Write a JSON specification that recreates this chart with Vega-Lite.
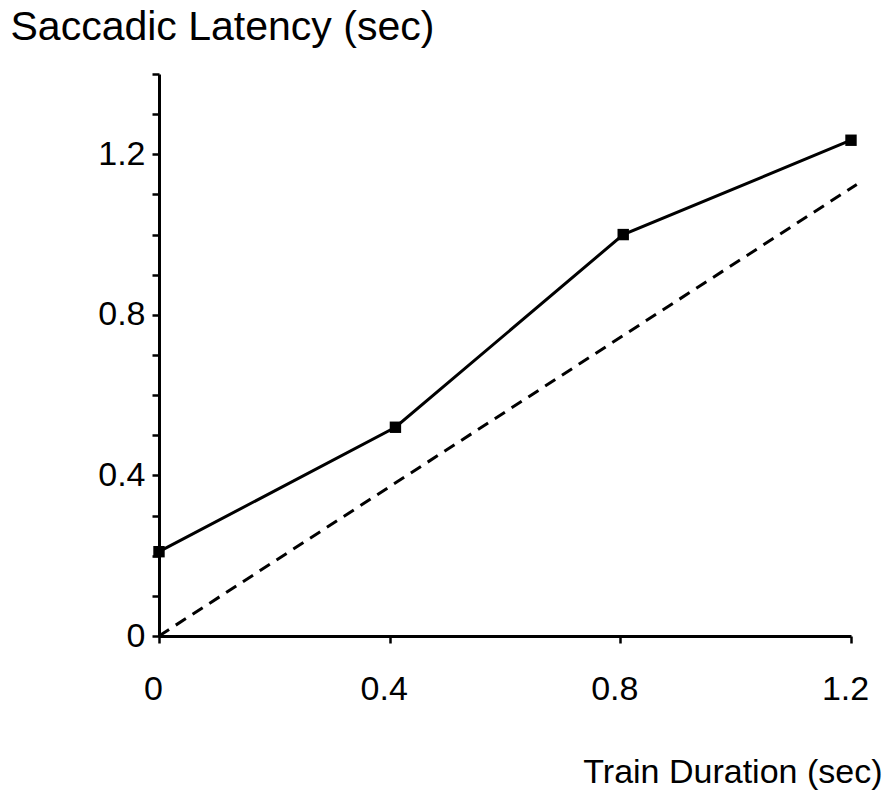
{
  "$schema": "https://vega.github.io/schema/vega-lite/v6.json",
  "width": 692,
  "height": 562,
  "autosize": "none",
  "padding": {"left": 159, "top": 74, "right": 44, "bottom": 160},
  "background": "white",
  "config": {
    "view": {"stroke": null},
    "font": "Liberation Sans",
    "axis": {
      "domainColor": "black",
      "domainWidth": 3,
      "tickColor": "black",
      "tickWidth": 2.5,
      "tickSize": 7,
      "labelColor": "black",
      "labelFontSize": 34,
      "labelFont": "Liberation Sans",
      "titleFont": "Liberation Sans",
      "titleFontSize": 34,
      "titleFontWeight": "normal",
      "titleColor": "black",
      "grid": false
    }
  },
  "layer": [
    {
      "data": {"values": [
        {"duration": 0, "latency": 0.21},
        {"duration": 0.41, "latency": 0.52},
        {"duration": 0.805, "latency": 1.0},
        {"duration": 1.2, "latency": 1.235}
      ]},
      "mark": {"type": "line", "color": "black", "strokeWidth": 3},
      "encoding": {
        "x": {
          "field": "duration", "type": "quantitative",
          "scale": {"domain": [0, 1.2], "nice": false},
          "axis": {
            "values": [0, 0.4, 0.8, 1.2],
            "format": "~g",
            "labelPadding": 29,
            "labelOffset": -6,
            "labelFlush": false,
            "title": "Train Duration (sec)",
            "titleX": 723,
            "titleY": 146,
            "titleAlign": "right",
            "titleBaseline": "alphabetic",
            "titleAnchor": null
          }
        },
        "y": {
          "field": "latency", "type": "quantitative",
          "scale": {"domain": [0, 1.4], "nice": false},
          "axis": {
            "values": [0, 0.1, 0.2, 0.3, 0.4, 0.5, 0.6, 0.7, 0.8, 0.9, 1.0, 1.1, 1.2, 1.3, 1.4],
            "labelExpr": "(round(datum.value*10) % 4 == 0 && datum.value < 1.3) ? format(datum.value, '~g') : ''",
            "labelPadding": 7,
            "labelFlush": false,
            "labelBaseline": "middle",
            "title": "Saccadic Latency (sec)",
            "titleFontSize": 41,
            "titleAngle": 0,
            "titleX": -149,
            "titleY": -35,
            "titleAlign": "left",
            "titleBaseline": "alphabetic",
            "titleAnchor": null
          }
        }
      }
    },
    {
      "data": {"values": [
        {"duration": 0, "latency": 0.21},
        {"duration": 0.41, "latency": 0.52},
        {"duration": 0.805, "latency": 1.0},
        {"duration": 1.2, "latency": 1.235}
      ]},
      "mark": {"type": "square", "size": 130, "color": "black", "filled": true, "opacity": 1},
      "encoding": {
        "x": {"field": "duration", "type": "quantitative"},
        "y": {"field": "latency", "type": "quantitative"}
      }
    },
    {
      "data": {"values": [
        {"duration": 0, "latency": 0},
        {"duration": 1.21, "latency": 1.125}
      ]},
      "mark": {"type": "line", "color": "black", "strokeWidth": 3, "strokeDash": [12, 8]},
      "encoding": {
        "x": {"field": "duration", "type": "quantitative"},
        "y": {"field": "latency", "type": "quantitative"}
      }
    }
  ]
}
